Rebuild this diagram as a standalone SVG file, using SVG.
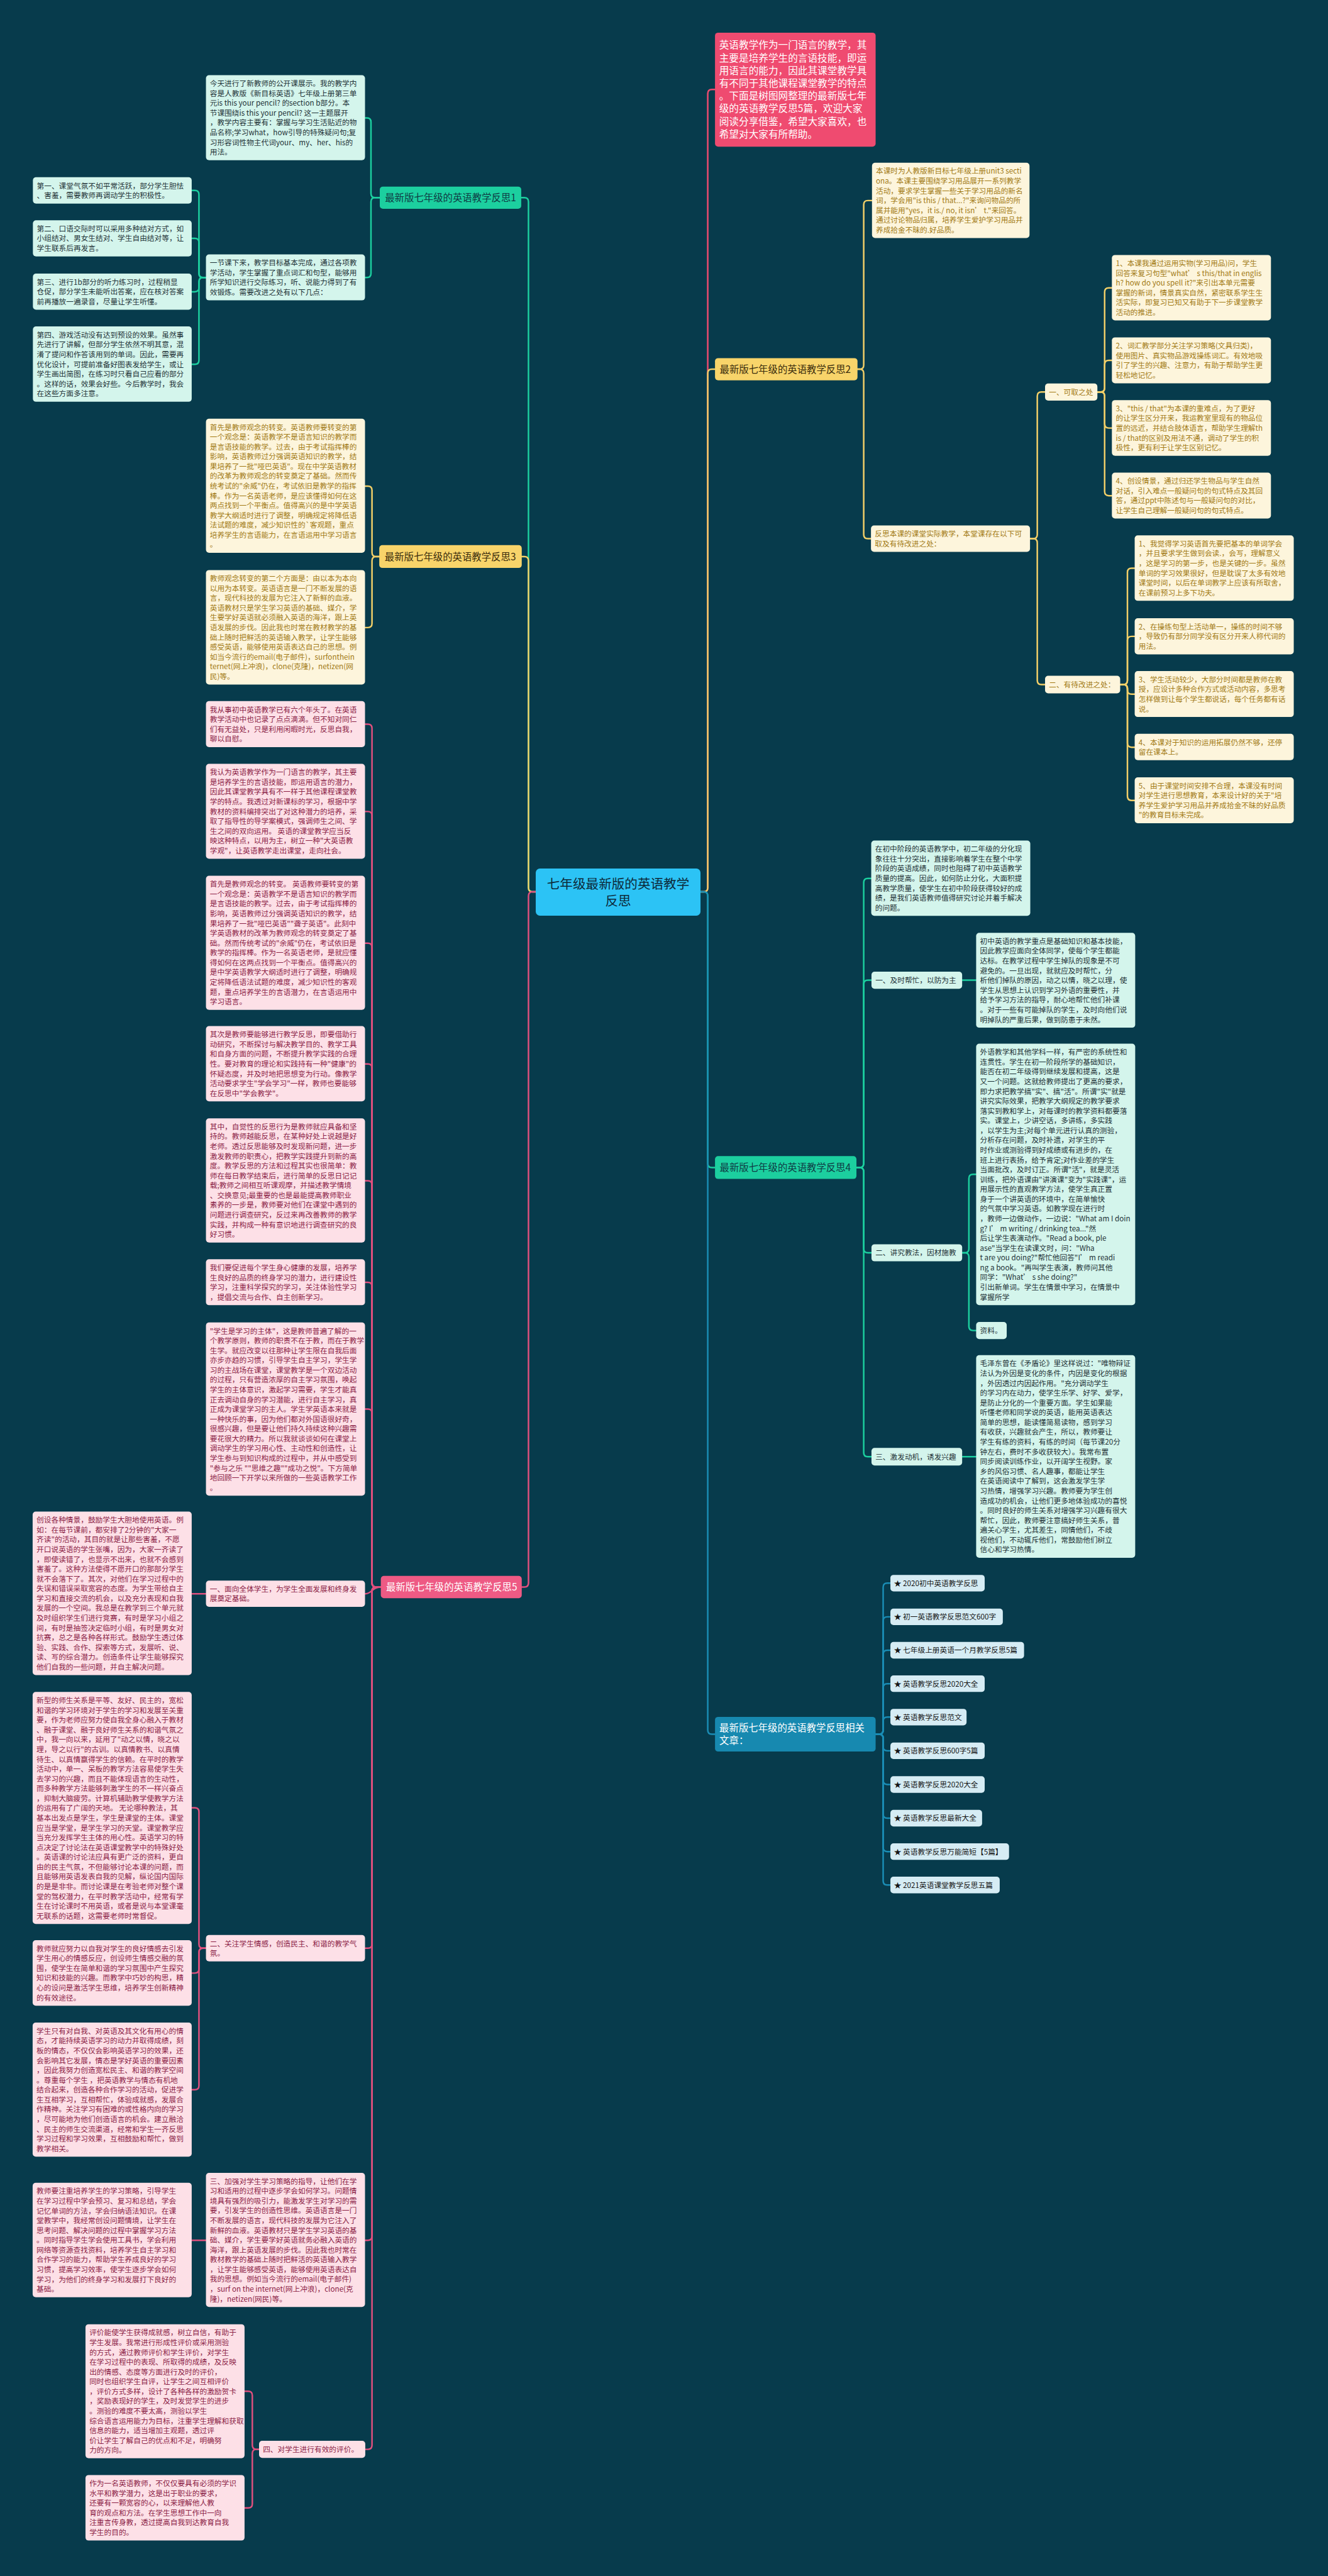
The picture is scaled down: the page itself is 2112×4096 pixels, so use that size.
<svg xmlns="http://www.w3.org/2000/svg" width="2112" height="4096" viewBox="0 0 2112 4096">
<style>
.t{font-family:"Noto Sans CJK SC","Noto Sans",sans-serif;font-size:14.2px}
.lb{font-size:18.7px}
.ct{font-size:25px}
.it{font-size:19px}
.c{fill:none;stroke-width:3;stroke-linecap:round;stroke-linejoin:round}
.cg{stroke:#1ccf9f}.cy{stroke:#f2cf68}.cp{stroke:#e0507e}.cb{stroke:#1a8db5}.cr{stroke:#ef4b70}
.fg{fill:#d4f5ec}.tg{fill:#1e3237}
.fy{fill:#fdf5dc}.ty{fill:#a27a14}
.fp{fill:#fde0e7}.tp{fill:#8c2246}
.fb{fill:#d6ecf4}.tb{fill:#151515}
.lg{fill:#1ccf9f}.ly{fill:#f8d46a}.lp{fill:#ee5a84}.lbl{fill:#1789b0}
.dk{fill:#0f3b44}.dy{fill:#3a2c0c}.wh{fill:#ffffff}
</style>
<rect x="0" y="0" width="2112" height="4096" fill="#073b4c"/>
<g transform="scale(0.824)">
<g id="connectors">
<path class="c cr" d="M1352 1721 L1358 1721 Q1366 1721 1366 1713 L1366 180.7 Q1366 172.7 1374 172.7 L1380 172.7"/>
<path class="c cg" d="M1034 1721 L1028 1721 Q1020 1721 1020 1713 L1020 389.5 Q1020 381.5 1012 381.5 L1006 381.5"/>
<path class="c cg" d="M1352 1721 L1358 1721 Q1366 1721 1366 1729 L1366 2245 Q1366 2253 1374 2253 L1380 2253"/>
<path class="c cy" d="M1034 1721 L1028 1721 Q1020 1721 1020 1713 L1020 1082 Q1020 1074 1012 1074 L1007 1074"/>
<path class="c cy" d="M1352 1721 L1358 1721 Q1366 1721 1366 1713 L1366 720.5 Q1366 712.5 1374 712.5 L1380 712.5"/>
<path class="c cp" d="M1034 1721 L1028 1721 Q1020 1721 1020 1729 L1020 3054.5 Q1020 3062.5 1012 3062.5 L1007 3062.5"/>
<path class="c cb" d="M1352 1721 L1358 1721 Q1366 1721 1366 1729 L1366 3338.5 Q1366 3346.5 1374 3346.5 L1380 3346.5"/>
<path class="c cg" d="M733 381.5 L724 381.5 Q716 381.5 716 373.5 L716 235.5 Q716 227.5 708 227.5 L705 227.5"/>
<path class="c cg" d="M733 381.5 L724 381.5 Q716 381.5 716 389.5 L716 527.5 Q716 535.5 708 535.5 L705 535.5"/>
<path class="c cg" d="M398 535.5 L392 535.5 Q384 535.5 384 527.5 L384 375.5 Q384 367.5 376 367.5 L370 367.5"/>
<path class="c cg" d="M398 535.5 L392 535.5 Q384 535.5 384 527.5 L384 468 Q384 460 376 460 L370 460"/>
<path class="c cg" d="M398 535.5 L392 535.5 Q384 535.5 384 543.5 L384 555 Q384 563 376 563 L370 563"/>
<path class="c cg" d="M398 535.5 L392 535.5 Q384 535.5 384 543.5 L384 695 Q384 703 376 703 L370 703"/>
<path class="c cy" d="M732 1074 L726 1074 Q718 1074 718 1066 L718 946 Q718 938 710 938 L705 938"/>
<path class="c cy" d="M732 1074 L726 1074 Q718 1074 718 1082 L718 1203 Q718 1211 710 1211 L705 1211"/>
<path class="c cp" d="M735 3062.5 L726 3062.5 Q718 3062.5 718 3054.5 L718 1405.5 Q718 1397.5 710 1397.5 L705 1397.5"/>
<path class="c cp" d="M735 3062.5 L726 3062.5 Q718 3062.5 718 3054.5 L718 1574 Q718 1566 710 1566 L705 1566"/>
<path class="c cp" d="M735 3062.5 L726 3062.5 Q718 3062.5 718 3054.5 L718 1828 Q718 1820 710 1820 L705 1820"/>
<path class="c cp" d="M735 3062.5 L726 3062.5 Q718 3062.5 718 3054.5 L718 2061 Q718 2053 710 2053 L705 2053"/>
<path class="c cp" d="M735 3062.5 L726 3062.5 Q718 3062.5 718 3054.5 L718 2286.5 Q718 2278.5 710 2278.5 L705 2278.5"/>
<path class="c cp" d="M735 3062.5 L726 3062.5 Q718 3062.5 718 3054.5 L718 2482.5 Q718 2474.5 710 2474.5 L705 2474.5"/>
<path class="c cp" d="M735 3062.5 L726 3062.5 Q718 3062.5 718 3054.5 L718 2727 Q718 2719 710 2719 L705 2719"/>
<path class="c cp" d="M735 3062.5 C718 3062.5 718 3075.5 705 3075.5"/>
<path class="c cp" d="M735 3062.5 L726 3062.5 Q718 3062.5 718 3070.5 L718 3751.5 Q718 3759.5 710 3759.5 L705 3759.5"/>
<path class="c cp" d="M735 3062.5 L726 3062.5 Q718 3062.5 718 3070.5 L718 4315 Q718 4323 710 4323 L705 4323"/>
<path class="c cp" d="M735 3062.5 L726 3062.5 Q718 3062.5 718 3070.5 L718 4718.5 Q718 4726.5 710 4726.5 L705 4726.5"/>
<path class="c cp" d="M397 3075.5 L370 3075.5"/>
<path class="c cp" d="M397 3759.5 L392 3759.5 Q384 3759.5 384 3751.5 L384 3496.5 Q384 3488.5 376 3488.5 L370 3488.5"/>
<path class="c cp" d="M397 3759.5 L392 3759.5 Q384 3759.5 384 3767.5 L384 3799.5 Q384 3807.5 376 3807.5 L370 3807.5"/>
<path class="c cp" d="M397 3759.5 L392 3759.5 Q384 3759.5 384 3767.5 L384 4024.5 Q384 4032.5 376 4032.5 L370 4032.5"/>
<path class="c cp" d="M397 4323 L370 4323"/>
<path class="c cp" d="M500 4726.5 L495 4726.5 Q487 4726.5 487 4718.5 L487 4622.5 Q487 4614.5 479 4614.5 L472 4614.5"/>
<path class="c cp" d="M500 4726.5 L495 4726.5 Q487 4726.5 487 4734.5 L487 4831.5 Q487 4839.5 479 4839.5 L472 4839.5"/>
<path class="c cy" d="M1655 712.5 L1659 712.5 Q1667 712.5 1667 704.5 L1667 395 Q1667 387 1675 387 L1683 387"/>
<path class="c cy" d="M1655 712.5 L1659 712.5 Q1667 712.5 1667 720.5 L1667 1031.5 Q1667 1039.5 1675 1039.5 L1681 1039.5"/>
<path class="c cy" d="M1988 1039.5 L1994 1039.5 Q2002 1039.5 2002 1031.5 L2002 764.5 Q2002 756.5 2010 756.5 L2017 756.5"/>
<path class="c cy" d="M1988 1039.5 L1994 1039.5 Q2002 1039.5 2002 1047.5 L2002 1313 Q2002 1321 2010 1321 L2017 1321"/>
<path class="c cy" d="M2118 756.5 L2124 756.5 Q2132 756.5 2132 748.5 L2132 563.5 Q2132 555.5 2140 555.5 L2146 555.5"/>
<path class="c cy" d="M2118 756.5 L2124 756.5 Q2132 756.5 2132 748.5 L2132 703.5 Q2132 695.5 2140 695.5 L2146 695.5"/>
<path class="c cy" d="M2118 756.5 L2124 756.5 Q2132 756.5 2132 764.5 L2132 818 Q2132 826 2140 826 L2146 826"/>
<path class="c cy" d="M2118 756.5 L2124 756.5 Q2132 756.5 2132 764.5 L2132 948.5 Q2132 956.5 2140 956.5 L2146 956.5"/>
<path class="c cy" d="M2162 1321 L2168 1321 Q2176 1321 2176 1313 L2176 1104.5 Q2176 1096.5 2184 1096.5 L2190 1096.5"/>
<path class="c cy" d="M2162 1321 L2168 1321 Q2176 1321 2176 1313 L2176 1236 Q2176 1228 2184 1228 L2190 1228"/>
<path class="c cy" d="M2162 1321 L2168 1321 Q2176 1321 2176 1329 L2176 1331.5 Q2176 1339.5 2184 1339.5 L2190 1339.5"/>
<path class="c cy" d="M2162 1321 L2168 1321 Q2176 1321 2176 1329 L2176 1434 Q2176 1442 2184 1442 L2190 1442"/>
<path class="c cy" d="M2162 1321 L2168 1321 Q2176 1321 2176 1329 L2176 1536.5 Q2176 1544.5 2184 1544.5 L2190 1544.5"/>
<path class="c cg" d="M1653 2253 L1659 2253 Q1667 2253 1667 2245 L1667 1703 Q1667 1695 1675 1695 L1681.5 1695"/>
<path class="c cg" d="M1653 2253 L1659 2253 Q1667 2253 1667 2245 L1667 1899.5 Q1667 1891.5 1675 1891.5 L1682 1891.5"/>
<path class="c cg" d="M1653 2253 L1659 2253 Q1667 2253 1667 2261 L1667 2409.5 Q1667 2417.5 1675 2417.5 L1682 2417.5"/>
<path class="c cg" d="M1653 2253 L1659 2253 Q1667 2253 1667 2261 L1667 2803 Q1667 2811 1675 2811 L1682 2811"/>
<path class="c cg" d="M1857 1891.5 L1884 1891.5"/>
<path class="c cg" d="M1857 2417.5 L1862 2417.5 Q1870 2417.5 1870 2409.5 L1870 2274.2 Q1870 2266.2 1878 2266.2 L1884 2266.2"/>
<path class="c cg" d="M1857 2417.5 L1862 2417.5 Q1870 2417.5 1870 2425.5 L1870 2559.5 Q1870 2567.5 1878 2567.5 L1884 2567.5"/>
<path class="c cg" d="M1857 2811 L1884 2811"/>
<path class="c cb" d="M1690 3346.5 L1696.5 3346.5 Q1704.5 3346.5 1704.5 3338.5 L1704.5 3063 Q1704.5 3055 1712.5 3055 L1718.5 3055"/>
<path class="c cb" d="M1690 3346.5 L1696.5 3346.5 Q1704.5 3346.5 1704.5 3338.5 L1704.5 3128 Q1704.5 3120 1712.5 3120 L1718.5 3120"/>
<path class="c cb" d="M1690 3346.5 L1696.5 3346.5 Q1704.5 3346.5 1704.5 3338.5 L1704.5 3192.5 Q1704.5 3184.5 1712.5 3184.5 L1718.5 3184.5"/>
<path class="c cb" d="M1690 3346.5 L1696.5 3346.5 Q1704.5 3346.5 1704.5 3338.5 L1704.5 3257 Q1704.5 3249 1712.5 3249 L1718.5 3249"/>
<path class="c cb" d="M1690 3346.5 L1696.5 3346.5 Q1704.5 3346.5 1704.5 3338.5 L1704.5 3321.5 Q1704.5 3313.5 1712.5 3313.5 L1718.5 3313.5"/>
<path class="c cb" d="M1690 3346.5 L1696.5 3346.5 Q1704.5 3346.5 1704.5 3354.5 L1704.5 3370.5 Q1704.5 3378.5 1712.5 3378.5 L1718.5 3378.5"/>
<path class="c cb" d="M1690 3346.5 L1696.5 3346.5 Q1704.5 3346.5 1704.5 3354.5 L1704.5 3435.5 Q1704.5 3443.5 1712.5 3443.5 L1718.5 3443.5"/>
<path class="c cb" d="M1690 3346.5 L1696.5 3346.5 Q1704.5 3346.5 1704.5 3354.5 L1704.5 3500.5 Q1704.5 3508.5 1712.5 3508.5 L1718.5 3508.5"/>
<path class="c cb" d="M1690 3346.5 L1696.5 3346.5 Q1704.5 3346.5 1704.5 3354.5 L1704.5 3565 Q1704.5 3573 1712.5 3573 L1718.5 3573"/>
<path class="c cb" d="M1690 3346.5 L1696.5 3346.5 Q1704.5 3346.5 1704.5 3354.5 L1704.5 3629.5 Q1704.5 3637.5 1712.5 3637.5 L1718.5 3637.5"/>
</g>

<g id="center"><rect x="1034" y="1676" width="318" height="91" rx="8" fill="#2cc3f5"/><text class="t ct" fill="#0d2a3a" text-anchor="middle"><tspan x="1193" y="1715">七年级最新版的英语教学</tspan><tspan x="1193" y="1748">反思</tspan></text></g>

<g id="intro"><rect x="1380" y="63" width="310" height="220" rx="6" fill="#ef4b70"/><text class="t it wh" x="1388" y="94"><tspan x="1388">英语教学作为一门语言的教学，其</tspan><tspan x="1388" dy="24.5">主要是培养学生的言语技能，即运</tspan><tspan x="1388" dy="24.5">用语言的能力，因此其课堂教学具</tspan><tspan x="1388" dy="24.5">有不同于其他课程课堂教学的特点</tspan><tspan x="1388" dy="24.5">。下面是树图网整理的最新版七年</tspan><tspan x="1388" dy="24.5">级的英语教学反思5篇，欢迎大家</tspan><tspan x="1388" dy="24.5">阅读分享借鉴，希望大家喜欢，也</tspan><tspan x="1388" dy="24.5">希望对大家有所帮助。</tspan></text></g>

<g id="b1"><rect x="733" y="360" width="273" height="43" rx="6" class="lg"/><text class="t lb dk" x="743" y="388.5">最新版七年级的英语教学反思1</text></g>
<g id="b1-intro"><rect x="397.5" y="145" width="307" height="164.2" rx="6" class="fg"/><text class="t tg" x="405" y="166.5"><tspan x="405">今天进行了新教师的公开课展示。我的教学内</tspan><tspan x="405" dy="18.9">容是人教版《新目标英语》七年级上册第三单</tspan><tspan x="405" dy="18.9">元is this your pencil? 的section b部分。本</tspan><tspan x="405" dy="18.9">节课围绕is this your pencil? 这一主题展开</tspan><tspan x="405" dy="18.9">，教学内容主要有：掌握与学习生活贴近的物</tspan><tspan x="405" dy="18.9">品名称;学习what，how引导的特殊疑问句;复</tspan><tspan x="405" dy="18.9">习形容词性物主代词your、my、her、his的</tspan><tspan x="405" dy="18.9">用法。</tspan></text></g>
<g id="b1-sum"><rect x="397.5" y="491" width="307" height="88.6" rx="6" class="fg"/><text class="t tg" x="405" y="512.5"><tspan x="405">一节课下来，教学目标基本完成，通过各项教</tspan><tspan x="405" dy="18.9">学活动，学生掌握了重点词汇和句型，能够用</tspan><tspan x="405" dy="18.9">所学知识进行交际练习，听、说能力得到了有</tspan><tspan x="405" dy="18.9">效锻炼。需要改进之处有以下几点：</tspan></text></g>
<g id="b1-1"><rect x="63.5" y="342" width="306.5" height="50.8" rx="6" class="fg"/><text class="t tg" x="71" y="363.5"><tspan x="71">第一、课堂气氛不如平常活跃，部分学生胆怯</tspan><tspan x="71" dy="18.9">、害羞，需要教师再调动学生的积极性。</tspan></text></g>
<g id="b1-2"><rect x="63.5" y="425" width="306.5" height="69.7" rx="6" class="fg"/><text class="t tg" x="71" y="446.5"><tspan x="71">第二、口语交际时可以采用多种结对方式，如</tspan><tspan x="71" dy="18.9">小组结对、男女生结对、学生自由结对等，让</tspan><tspan x="71" dy="18.9">学生联系后再发言。</tspan></text></g>
<g id="b1-3"><rect x="63.5" y="528" width="306.5" height="69.7" rx="6" class="fg"/><text class="t tg" x="71" y="549.5"><tspan x="71">第三、进行1b部分的听力练习时，过程稍显</tspan><tspan x="71" dy="18.9">仓促，部分学生未能听出答案，应在核对答案</tspan><tspan x="71" dy="18.9">前再播放一遍录音，尽量让学生听懂。</tspan></text></g>
<g id="b1-4"><rect x="63.5" y="630" width="306.5" height="145.3" rx="6" class="fg"/><text class="t tg" x="71" y="651.5"><tspan x="71">第四、游戏活动没有达到预设的效果。虽然事</tspan><tspan x="71" dy="18.9">先进行了讲解，但部分学生依然不明其意，混</tspan><tspan x="71" dy="18.9">淆了提问和作答该用到的单词。因此，需要再</tspan><tspan x="71" dy="18.9">优化设计，可提前准备好图表发给学生，或让</tspan><tspan x="71" dy="18.9">学生画出简图，在练习时只看自己应看的部分</tspan><tspan x="71" dy="18.9">。这样的话，效果会好些。今后教学时，我会</tspan><tspan x="71" dy="18.9">在这些方面多注意。</tspan></text></g>

<g id="b3"><rect x="732" y="1052" width="275" height="44" rx="6" class="ly"/><text class="t lb dy" x="742.5" y="1081">最新版七年级的英语教学反思3</text></g>
<g id="b3-1"><rect x="397.5" y="808" width="307" height="258.7" rx="6" class="fy"/><text class="t ty" x="405" y="829.5"><tspan x="405">首先是教师观念的转变。英语教师要转变的第</tspan><tspan x="405" dy="18.9">一个观念是：英语教学不是语言知识的教学而</tspan><tspan x="405" dy="18.9">是言语技能的教学。过去，由于考试指挥棒的</tspan><tspan x="405" dy="18.9">影响，英语教师过分强调英语知识的教学，结</tspan><tspan x="405" dy="18.9">果培养了一批"哑巴英语"。现在中学英语教材</tspan><tspan x="405" dy="18.9">的改革为教师观念的转变奠定了基础。然而传</tspan><tspan x="405" dy="18.9">统考试的"余威"仍在，考试依旧是教学的指挥</tspan><tspan x="405" dy="18.9">棒。作为一名英语老师，是应该懂得如何在这</tspan><tspan x="405" dy="18.9">两点找到一个平衡点。值得高兴的是中学英语</tspan><tspan x="405" dy="18.9">教学大纲适时进行了调整，明确规定将降低语</tspan><tspan x="405" dy="18.9">法试题的难度，减少知识性的`客观题，重点</tspan><tspan x="405" dy="18.9">培养学生的言语能力，在言语运用中学习语言</tspan><tspan x="405" dy="18.9">。</tspan></text></g>
<g id="b3-2"><rect x="397.5" y="1100" width="307" height="220.9" rx="6" class="fy"/><text class="t ty" x="405" y="1121.5"><tspan x="405">教师观念转变的第二个方面是：由以本为本向</tspan><tspan x="405" dy="18.9">以用为本转变。英语语言是一门不断发展的语</tspan><tspan x="405" dy="18.9">言，现代科技的发展为它注入了新鲜的血液。</tspan><tspan x="405" dy="18.9">英语教材只是学生学习英语的基础、媒介，学</tspan><tspan x="405" dy="18.9">生要学好英语就必须融入英语的海洋，跟上英</tspan><tspan x="405" dy="18.9">语发展的步伐。因此我也时常在教材教学的基</tspan><tspan x="405" dy="18.9">础上随时把鲜活的英语输入教学，让学生能够</tspan><tspan x="405" dy="18.9">感受英语，能够使用英语表达自己的思想。例</tspan><tspan x="405" dy="18.9">如当今流行的email(电子邮件)，surfonthein</tspan><tspan x="405" dy="18.9">ternet(网上冲浪)，clone(克隆)，netizen(网</tspan><tspan x="405" dy="18.9">民)等。</tspan></text></g>

<g id="b5"><rect x="735" y="3041" width="272" height="43" rx="6" class="lp"/><text class="t lb wh" x="745" y="3069.5">最新版七年级的英语教学反思5</text></g>
<g id="b5-p1"><rect x="397.5" y="1353" width="307" height="88.6" rx="6" class="fp"/><text class="t tp" x="405" y="1374.5"><tspan x="405">我从事初中英语教学已有六个年头了。在英语</tspan><tspan x="405" dy="18.9">教学活动中也记录了点点滴滴。但不知对同仁</tspan><tspan x="405" dy="18.9">们有无益处，只是利用闲暇时光，反思自我，</tspan><tspan x="405" dy="18.9">聊以自慰。</tspan></text></g>
<g id="b5-p2"><rect x="397.5" y="1474" width="307" height="183.1" rx="6" class="fp"/><text class="t tp" x="405" y="1495.5"><tspan x="405">我认为英语教学作为一门语言的教学，其主要</tspan><tspan x="405" dy="18.9">是培养学生的言语技能，即运用语言的潜力，</tspan><tspan x="405" dy="18.9">因此其课堂教学具有不一样于其他课程课堂教</tspan><tspan x="405" dy="18.9">学的特点。我透过对新课标的学习，根据中学</tspan><tspan x="405" dy="18.9">教材的资料编排突出了对这种潜力的培养，采</tspan><tspan x="405" dy="18.9">取了指导性的导学案模式，强调师生之间、学</tspan><tspan x="405" dy="18.9">生之间的双向运用。 英语的课堂教学应当反</tspan><tspan x="405" dy="18.9">映这种特点，以用为主，树立一种"大英语教</tspan><tspan x="405" dy="18.9">学观"，让英语教学走出课堂，走向社会。</tspan></text></g>
<g id="b5-p3"><rect x="397.5" y="1690" width="307" height="258.7" rx="6" class="fp"/><text class="t tp" x="405" y="1711.5"><tspan x="405">首先是教师观念的转变。 英语教师要转变的第</tspan><tspan x="405" dy="18.9">一个观念是：英语教学不是语言知识的教学而</tspan><tspan x="405" dy="18.9">是言语技能的教学。过去，由于考试指挥棒的</tspan><tspan x="405" dy="18.9">影响，英语教师过分强调英语知识的教学，结</tspan><tspan x="405" dy="18.9">果培养了一批"哑巴英语""聋子英语"。此刻中</tspan><tspan x="405" dy="18.9">学英语教材的改革为教师观念的转变奠定了基</tspan><tspan x="405" dy="18.9">础。然而传统考试的"余威"仍在，考试依旧是</tspan><tspan x="405" dy="18.9">教学的指挥棒。作为一名英语老师，是就应懂</tspan><tspan x="405" dy="18.9">得如何在这两点找到一个平衡点。值得高兴的</tspan><tspan x="405" dy="18.9">是中学英语教学大纲适时进行了调整，明确规</tspan><tspan x="405" dy="18.9">定将降低语法试题的难度，减少知识性的客观</tspan><tspan x="405" dy="18.9">题，重点培养学生的言语潜力，在言语运用中</tspan><tspan x="405" dy="18.9">学习语言。</tspan></text></g>
<g id="b5-p4"><rect x="397.5" y="1980" width="307" height="145.3" rx="6" class="fp"/><text class="t tp" x="405" y="2001.5"><tspan x="405">其次是教师要能够进行教学反思，即要借助行</tspan><tspan x="405" dy="18.9">动研究，不断探讨与解决教学目的、教学工具</tspan><tspan x="405" dy="18.9">和自身方面的问题，不断提升教学实践的合理</tspan><tspan x="405" dy="18.9">性。要对教育的理论和实践持有一种"健康"的</tspan><tspan x="405" dy="18.9">怀疑态度，并及时地把思想变为行动。像教学</tspan><tspan x="405" dy="18.9">活动要求学生"学会学习"一样，教师也要能够</tspan><tspan x="405" dy="18.9">在反思中"学会教学"。</tspan></text></g>
<g id="b5-p5"><rect x="397.5" y="2158" width="307" height="239.8" rx="6" class="fp"/><text class="t tp" x="405" y="2179.5"><tspan x="405">其中，自觉性的反思行为是教师就应具备和坚</tspan><tspan x="405" dy="18.9">持的。教师越能反思，在某种好处上说越是好</tspan><tspan x="405" dy="18.9">老师。透过反思能够及时发现新问题，进一步</tspan><tspan x="405" dy="18.9">激发教师的职责心，把教学实践提升到新的高</tspan><tspan x="405" dy="18.9">度。教学反思的方法和过程其实也很简单：教</tspan><tspan x="405" dy="18.9">师在每日教学结束后，进行简单的反思日记记</tspan><tspan x="405" dy="18.9">载;教师之间相互听课观摩，并描述教学情境</tspan><tspan x="405" dy="18.9">、交换意见;最重要的也是最能提高教师职业</tspan><tspan x="405" dy="18.9">素养的一步是，教师要对他们在课堂中遇到的</tspan><tspan x="405" dy="18.9">问题进行调查研究，反过来再改善教师的教学</tspan><tspan x="405" dy="18.9">实践，并构成一种有意识地进行调查研究的良</tspan><tspan x="405" dy="18.9">好习惯。</tspan></text></g>
<g id="b5-p6"><rect x="397.5" y="2430" width="307" height="88.6" rx="6" class="fp"/><text class="t tp" x="405" y="2451.5"><tspan x="405">我们要促进每个学生身心健康的发展，培养学</tspan><tspan x="405" dy="18.9">生良好的品质的终身学习的潜力，进行建设性</tspan><tspan x="405" dy="18.9">学习，注重科学探究的学习，关注体验性学习</tspan><tspan x="405" dy="18.9">，提倡交流与合作、自主创新学习。</tspan></text></g>
<g id="b5-p7"><rect x="397.5" y="2552" width="307" height="334.3" rx="6" class="fp"/><text class="t tp" x="405" y="2573.5"><tspan x="405">"学生是学习的主体"，这是教师普遍了解的一</tspan><tspan x="405" dy="18.9">个教学原则，教师的职责不在于教，而在于教学</tspan><tspan x="405" dy="18.9">生学。就应改变以往那种让学生限在自我后面</tspan><tspan x="405" dy="18.9">亦步亦趋的习惯，引导学生自主学习，学生学</tspan><tspan x="405" dy="18.9">习的主战场在课堂，课堂教学是一个双边活动</tspan><tspan x="405" dy="18.9">的过程，只有营造浓厚的自主学习氛围，唤起</tspan><tspan x="405" dy="18.9">学生的主体意识，激起学习需要，学生才能真</tspan><tspan x="405" dy="18.9">正去调动自身的学习潜能，进行自主学习，真</tspan><tspan x="405" dy="18.9">正成为课堂学习的主人。学生学英语本来就是</tspan><tspan x="405" dy="18.9">一种快乐的事，因为他们都对外国语很好奇，</tspan><tspan x="405" dy="18.9">很感兴趣，但是要让他们持久持续这种兴趣需</tspan><tspan x="405" dy="18.9">要花很大的精力。所以我就谈谈如何在课堂上</tspan><tspan x="405" dy="18.9">调动学生的学习用心性、主动性和创造性，让</tspan><tspan x="405" dy="18.9">学生参与到知识构成的过程中，并从中感受到</tspan><tspan x="405" dy="18.9">"参与之乐 ""思维之趣""成功之悦"。下方简单</tspan><tspan x="405" dy="18.9">地回顾一下开学以来所做的一些英语教学工作</tspan><tspan x="405" dy="18.9">。</tspan></text></g>
<g id="b5-p8"><rect x="397.5" y="3050" width="307" height="50.8" rx="6" class="fp"/><text class="t tp" x="405" y="3071.5"><tspan x="405">一、面向全体学生，为学生全面发展和终身发</tspan><tspan x="405" dy="18.9">展奠定基础。</tspan></text></g>
<g id="b5-p8-1"><rect x="63" y="2917" width="307" height="315.4" rx="6" class="fp"/><text class="t tp" x="70.5" y="2938.5"><tspan x="70.5">创设各种情景，鼓励学生大胆地使用英语。例</tspan><tspan x="70.5" dy="18.9">如：在每节课前，都安排了2分钟的"大家一</tspan><tspan x="70.5" dy="18.9">齐读"的活动，其目的就是让那些害羞，不愿</tspan><tspan x="70.5" dy="18.9">开口说英语的学生张嘴，因为，大家一齐读了</tspan><tspan x="70.5" dy="18.9">，即使读错了，也显示不出来，也就不会感到</tspan><tspan x="70.5" dy="18.9">害羞了。这种方法使得不愿开口的那部分学生</tspan><tspan x="70.5" dy="18.9">就不会落下了。其次，对他们在学习过程中的</tspan><tspan x="70.5" dy="18.9">失误和错误采取宽容的态度。为学生带给自主</tspan><tspan x="70.5" dy="18.9">学习和直接交流的机会，以及充分表现和自我</tspan><tspan x="70.5" dy="18.9">发展的一个空间。我总是在教学到三个单元就</tspan><tspan x="70.5" dy="18.9">及时组织学生们进行竞赛，有时是学习小组之</tspan><tspan x="70.5" dy="18.9">间，有时是抽签决定临时小组，有时是男女对</tspan><tspan x="70.5" dy="18.9">抗赛，总之是各种各样形式。鼓励学生透过体</tspan><tspan x="70.5" dy="18.9">验、实践、合作、探索等方式，发展听、说、</tspan><tspan x="70.5" dy="18.9">读、写的综合潜力。创造条件让学生能够探究</tspan><tspan x="70.5" dy="18.9">他们自我的一些问题，并自主解决问题。</tspan></text></g>
<g id="b5-p9"><rect x="397.5" y="3734" width="307" height="50.8" rx="6" class="fp"/><text class="t tp" x="405" y="3755.5"><tspan x="405">二、关注学生情感，创造民主、和谐的教学气</tspan><tspan x="405" dy="18.9">氛。</tspan></text></g>
<g id="b5-p9-1"><rect x="63" y="3265" width="307" height="447.7" rx="6" class="fp"/><text class="t tp" x="70.5" y="3286.5"><tspan x="70.5">新型的师生关系是平等、友好、民主的，宽松</tspan><tspan x="70.5" dy="18.9">和谐的学习环境对于学生的学习和发展至关重</tspan><tspan x="70.5" dy="18.9">要，作为老师应努力使自我全身心融入于教材</tspan><tspan x="70.5" dy="18.9">、融于课堂、融于良好师生关系的和谐气氛之</tspan><tspan x="70.5" dy="18.9">中，我一向以来，延用了"动之以情，晓之以</tspan><tspan x="70.5" dy="18.9">理，导之以行"的古训。以真情教书、以真情</tspan><tspan x="70.5" dy="18.9">待生、以真情赢得学生的信赖。在平时的教学</tspan><tspan x="70.5" dy="18.9">活动中，单一、呆板的教学方法容易使学生失</tspan><tspan x="70.5" dy="18.9">去学习的兴趣，而且不能体现语言的生动性，</tspan><tspan x="70.5" dy="18.9">而多种教学方法能够刺激学生的不一样兴奋点</tspan><tspan x="70.5" dy="18.9">，抑制大脑疲劳。计算机辅助教学使教学方法</tspan><tspan x="70.5" dy="18.9">的运用有了广阔的天地。 无论哪种教法，其</tspan><tspan x="70.5" dy="18.9">基本出发点是学生，学生是课堂的主体。课堂</tspan><tspan x="70.5" dy="18.9">应当是学堂，是学生学习的天堂。课堂教学应</tspan><tspan x="70.5" dy="18.9">当充分发挥学生主体的用心性。英语学习的特</tspan><tspan x="70.5" dy="18.9">点决定了讨论法在英语课堂教学中的特殊好处</tspan><tspan x="70.5" dy="18.9">。英语课的讨论法应具有更广泛的资料，更自</tspan><tspan x="70.5" dy="18.9">由的民主气氛，不但能够讨论本课的问题，而</tspan><tspan x="70.5" dy="18.9">且能够用英语发表自我的见解，纵论国内国际</tspan><tspan x="70.5" dy="18.9">的是是非非。而讨论课是在考验老师对整个课</tspan><tspan x="70.5" dy="18.9">堂的驾权潜力，在平时教学活动中，经常有学</tspan><tspan x="70.5" dy="18.9">生在讨论课时不用英语，或者是说与本堂课毫</tspan><tspan x="70.5" dy="18.9">无联系的话题，这需要老师时常督促。</tspan></text></g>
<g id="b5-p9-2"><rect x="63" y="3744" width="307" height="126.4" rx="6" class="fp"/><text class="t tp" x="70.5" y="3765.5"><tspan x="70.5">教师就应努力以自我对学生的良好情感去引发</tspan><tspan x="70.5" dy="18.9">学生用心的情感反应，创设师生情感交融的氛</tspan><tspan x="70.5" dy="18.9">围，使学生在简单和谐的学习氛围中产生探究</tspan><tspan x="70.5" dy="18.9">知识和技能的兴趣。而教学中巧妙的构思，精</tspan><tspan x="70.5" dy="18.9">心的设问是激活学生思维，培养学生创新精神</tspan><tspan x="70.5" dy="18.9">的有效途径。</tspan></text></g>
<g id="b5-p9-3"><rect x="63" y="3903" width="307" height="258.7" rx="6" class="fp"/><text class="t tp" x="70.5" y="3924.5"><tspan x="70.5">学生只有对自我、对英语及其文化有用心的情</tspan><tspan x="70.5" dy="18.9">态，才能持续英语学习的动力并取得成绩，刻</tspan><tspan x="70.5" dy="18.9">板的情态，不仅仅会影响英语学习的效果，还</tspan><tspan x="70.5" dy="18.9">会影响其它发展，情态是学好英语的重要因素</tspan><tspan x="70.5" dy="18.9">，因此我努力创造宽松民主、和谐的教学空间</tspan><tspan x="70.5" dy="18.9">。尊重每个学生 ，把英语教学与情态有机地</tspan><tspan x="70.5" dy="18.9">结合起来，创造各种合作学习的活动，促进学</tspan><tspan x="70.5" dy="18.9">生互相学习，互相帮忙，体验成就感，发展合</tspan><tspan x="70.5" dy="18.9">作精神。关注学习有困难的或性格内向的学习</tspan><tspan x="70.5" dy="18.9">，尽可能地为他们创造语言的机会。建立融洽</tspan><tspan x="70.5" dy="18.9">、民主的师生交流渠道，经常和学生一齐反思</tspan><tspan x="70.5" dy="18.9">学习过程和学习效果，互相鼓励和帮忙，做到</tspan><tspan x="70.5" dy="18.9">教学相关。</tspan></text></g>
<g id="b5-p10"><rect x="397.5" y="4193" width="307" height="258.7" rx="6" class="fp"/><text class="t tp" x="405" y="4214.5"><tspan x="405">三、加强对学生学习策略的指导，让他们在学</tspan><tspan x="405" dy="18.9">习和适用的过程中逐步学会如何学习。问题情</tspan><tspan x="405" dy="18.9">境具有强烈的吸引力，能激发学生对学习的需</tspan><tspan x="405" dy="18.9">要，引发学生的创造性思维。英语语言是一门</tspan><tspan x="405" dy="18.9">不断发展的语言，现代科技的发展为它注入了</tspan><tspan x="405" dy="18.9">新鲜的血液。英语教材只是学生学习英语的基</tspan><tspan x="405" dy="18.9">础、媒介，学生要学好英语就务必融入英语的</tspan><tspan x="405" dy="18.9">海洋，跟上英语发展的步伐。因此我也时常在</tspan><tspan x="405" dy="18.9">教材教学的基础上随时把鲜活的英语输入教学</tspan><tspan x="405" dy="18.9">，让学生能够感受英语，能够使用英语表达自</tspan><tspan x="405" dy="18.9">我的思想。例如当今流行的email(电子邮件)</tspan><tspan x="405" dy="18.9">，surf on the internet(网上冲浪)，clone(克</tspan><tspan x="405" dy="18.9">隆)，netizen(网民)等。</tspan></text></g>
<g id="b5-p10-1"><rect x="63" y="4212" width="307" height="220.9" rx="6" class="fp"/><text class="t tp" x="70.5" y="4233.5"><tspan x="70.5">教师要注重培养学生的学习策略，引导学生</tspan><tspan x="70.5" dy="18.9">在学习过程中学会预习、复习和总结，学会</tspan><tspan x="70.5" dy="18.9">记忆单词的方法，学会归纳语法知识。在课</tspan><tspan x="70.5" dy="18.9">堂教学中，我经常创设问题情境，让学生在</tspan><tspan x="70.5" dy="18.9">思考问题、解决问题的过程中掌握学习方法</tspan><tspan x="70.5" dy="18.9">。同时指导学生学会使用工具书，学会利用</tspan><tspan x="70.5" dy="18.9">网络等资源查找资料，培养学生自主学习和</tspan><tspan x="70.5" dy="18.9">合作学习的能力，帮助学生养成良好的学习</tspan><tspan x="70.5" dy="18.9">习惯，提高学习效率，使学生逐步学会如何</tspan><tspan x="70.5" dy="18.9">学习，为他们的终身学习和发展打下良好的</tspan><tspan x="70.5" dy="18.9">基础。</tspan></text></g>
<g id="b5-p11"><rect x="500" y="4710" width="205" height="33" rx="6" class="fp"/><text class="t tp" x="507.5" y="4731.8">四、对学生进行有效的评价。</text></g>
<g id="b5-p11-1"><rect x="165" y="4485" width="307" height="258.7" rx="6" class="fp"/><text class="t tp" x="172.5" y="4506.5"><tspan x="172.5">评价能使学生获得成就感，树立自信，有助于</tspan><tspan x="172.5" dy="18.9">学生发展。我常进行形成性评价或采用测验</tspan><tspan x="172.5" dy="18.9">的方式，通过教师评价和学生评价，对学生</tspan><tspan x="172.5" dy="18.9">在学习过程中的表现、所取得的成绩，及反映</tspan><tspan x="172.5" dy="18.9">出的情感、态度等方面进行及时的评价，</tspan><tspan x="172.5" dy="18.9">同时也组织学生自评，让学生之间互相评价</tspan><tspan x="172.5" dy="18.9">，评价方式多样，设计了各种各样的激励贺卡</tspan><tspan x="172.5" dy="18.9">，奖励表现好的学生，及时发觉学生的进步</tspan><tspan x="172.5" dy="18.9">。测验的难度不要太高，测验以学生</tspan><tspan x="172.5" dy="18.9">综合语言运用能力为目标，注重学生理解和获取</tspan><tspan x="172.5" dy="18.9">信息的能力，适当增加主观题，透过评</tspan><tspan x="172.5" dy="18.9">价让学生了解自己的优点和不足，明确努</tspan><tspan x="172.5" dy="18.9">力的方向。</tspan></text></g>
<g id="b5-p11-2"><rect x="165" y="4776" width="307" height="126.4" rx="6" class="fp"/><text class="t tp" x="172.5" y="4797.5"><tspan x="172.5">作为一名英语教师，不仅仅要具有必须的学识</tspan><tspan x="172.5" dy="18.9">水平和教学潜力，这是出于职业的要求，</tspan><tspan x="172.5" dy="18.9">还要有一颗宽容的心，以来理解他人教</tspan><tspan x="172.5" dy="18.9">育的观点和方法。在学生思想工作中一向</tspan><tspan x="172.5" dy="18.9">注重言传身教，透过提高自我到达教育自我</tspan><tspan x="172.5" dy="18.9">学生的目的。</tspan></text></g>

<g id="b2"><rect x="1380" y="691" width="275" height="43" rx="6" class="ly"/><text class="t lb dy" x="1389" y="719.5">最新版七年级的英语教学反思2</text></g>
<g id="b2-intro"><rect x="1683" y="314" width="304" height="145.3" rx="6" class="fy"/><text class="t ty" x="1690.5" y="335.5"><tspan x="1690.5">本课时为人教版新目标七年级上册unit3 secti</tspan><tspan x="1690.5" dy="18.9">ona。本课主要围绕学习用品展开一系列教学</tspan><tspan x="1690.5" dy="18.9">活动，要求学生掌握一些关于学习用品的新名</tspan><tspan x="1690.5" dy="18.9">词，学会用"is this / that...?"来询问物品的所</tspan><tspan x="1690.5" dy="18.9">属并能用"yes，it is./ no, it isn’ t."来回答。</tspan><tspan x="1690.5" dy="18.9">通过讨论物品归属，培养学生爱护学习用品并</tspan><tspan x="1690.5" dy="18.9">养成拾金不昧的.好品质。</tspan></text></g>
<g id="b2-refl"><rect x="1681" y="1014" width="307" height="50.8" rx="6" class="fy"/><text class="t ty" x="1688.5" y="1035.5"><tspan x="1688.5">反思本课的课堂实际教学，本堂课存在以下可</tspan><tspan x="1688.5" dy="18.9">取及有待改进之处：</tspan></text></g>
<g id="b2-good"><rect x="2017" y="740" width="101" height="33" rx="6" class="fy"/><text class="t ty" x="2024.5" y="761.8">一、可取之处</text></g>
<g id="b2-bad"><rect x="2017" y="1304" width="145" height="34" rx="6" class="fy"/><text class="t ty" x="2024.5" y="1326.3">二、有待改进之处：</text></g>
<g id="b2-g1"><rect x="2146" y="492" width="307" height="126.4" rx="6" class="fy"/><text class="t ty" x="2153.5" y="513.5"><tspan x="2153.5">1、本课我通过运用实物(学习用品)问，学生</tspan><tspan x="2153.5" dy="18.9">回答来复习句型"what’ s this/that in englis</tspan><tspan x="2153.5" dy="18.9">h? how do you spell it?"来引出本单元需要</tspan><tspan x="2153.5" dy="18.9">掌握的新词，情景真实自然，紧密联系学生生</tspan><tspan x="2153.5" dy="18.9">活实际，即复习已知又有助于下一步课堂教学</tspan><tspan x="2153.5" dy="18.9">活动的推进。</tspan></text></g>
<g id="b2-g2"><rect x="2146" y="651" width="307" height="88.6" rx="6" class="fy"/><text class="t ty" x="2153.5" y="672.5"><tspan x="2153.5">2、词汇教学部分关注学习策略(文具归类)，</tspan><tspan x="2153.5" dy="18.9">使用图片、真实物品游戏操练词汇。有效地吸</tspan><tspan x="2153.5" dy="18.9">引了学生的兴趣、注意力，有助于帮助学生更</tspan><tspan x="2153.5" dy="18.9">轻松地记忆。</tspan></text></g>
<g id="b2-g3"><rect x="2146" y="772" width="307" height="107.5" rx="6" class="fy"/><text class="t ty" x="2153.5" y="793.5"><tspan x="2153.5">3、"this / that"为本课的重难点，为了更好</tspan><tspan x="2153.5" dy="18.9">的让学生区分开来，我运教室里现有的物品位</tspan><tspan x="2153.5" dy="18.9">置的远近，并结合肢体语言，帮助学生理解th</tspan><tspan x="2153.5" dy="18.9">is / that的区别及用法不通，调动了学生的积</tspan><tspan x="2153.5" dy="18.9">极性，更有利于让学生区别记忆。</tspan></text></g>
<g id="b2-g4"><rect x="2146" y="912" width="307" height="88.6" rx="6" class="fy"/><text class="t ty" x="2153.5" y="933.5"><tspan x="2153.5">4、创设情景，通过归还学生物品与学生自然</tspan><tspan x="2153.5" dy="18.9">对话，引入难点一般疑问句的句式特点及其回</tspan><tspan x="2153.5" dy="18.9">答，通过ppt中陈述句与一般疑问句的对比，</tspan><tspan x="2153.5" dy="18.9">让学生自己理解一般疑问句的句式特点。</tspan></text></g>
<g id="b2-b1"><rect x="2190" y="1033" width="307" height="126.4" rx="6" class="fy"/><text class="t ty" x="2197.5" y="1054.5"><tspan x="2197.5">1、我觉得学习英语首先要把基本的单词学会</tspan><tspan x="2197.5" dy="18.9">，并且要求学生做到会读.，会写，理解意义</tspan><tspan x="2197.5" dy="18.9">，这是学习的第一步，也是关键的一步。虽然</tspan><tspan x="2197.5" dy="18.9">单词的学习效果很好，但是耽误了太多有效地</tspan><tspan x="2197.5" dy="18.9">课堂时间，以后在单词教学上应该有所取舍，</tspan><tspan x="2197.5" dy="18.9">在课前预习上多下功夫。</tspan></text></g>
<g id="b2-b2"><rect x="2190" y="1193" width="307" height="69.7" rx="6" class="fy"/><text class="t ty" x="2197.5" y="1214.5"><tspan x="2197.5">2、在操练句型上活动单一，操练的时间不够</tspan><tspan x="2197.5" dy="18.9">，导致仍有部分同学没有区分开来人称代词的</tspan><tspan x="2197.5" dy="18.9">用法。</tspan></text></g>
<g id="b2-b3"><rect x="2190" y="1295" width="307" height="88.6" rx="6" class="fy"/><text class="t ty" x="2197.5" y="1316.5"><tspan x="2197.5">3、学生活动较少，大部分时间都是教师在教</tspan><tspan x="2197.5" dy="18.9">授，应设计多种合作方式或活动内容，多思考</tspan><tspan x="2197.5" dy="18.9">怎样做到让每个学生都说话，每个任务都有话</tspan><tspan x="2197.5" dy="18.9">说。</tspan></text></g>
<g id="b2-b4"><rect x="2190" y="1416" width="307" height="50.8" rx="6" class="fy"/><text class="t ty" x="2197.5" y="1437.5"><tspan x="2197.5">4、本课对于知识的运用拓展仍然不够，还停</tspan><tspan x="2197.5" dy="18.9">留在课本上。</tspan></text></g>
<g id="b2-b5"><rect x="2190" y="1500" width="307" height="88.6" rx="6" class="fy"/><text class="t ty" x="2197.5" y="1521.5"><tspan x="2197.5">5、由于课堂时间安排不合理，本课没有时间</tspan><tspan x="2197.5" dy="18.9">对学生进行思想教育，本来设计好的关于"培</tspan><tspan x="2197.5" dy="18.9">养学生爱护学习用品并养成拾金不昧的好品质</tspan><tspan x="2197.5" dy="18.9">"的教育目标未完成。</tspan></text></g>

<g id="b4"><rect x="1380" y="2231" width="273" height="44" rx="6" class="lg"/><text class="t lb dk" x="1389" y="2260">最新版七年级的英语教学反思4</text></g>
<g id="b4-intro"><rect x="1681.5" y="1622" width="307" height="145.3" rx="6" class="fg"/><text class="t tg" x="1689" y="1643.5"><tspan x="1689">在初中阶段的英语教学中，初二年级的分化现</tspan><tspan x="1689" dy="18.9">象往往十分突出，直接影响着学生在整个中学</tspan><tspan x="1689" dy="18.9">阶段的英语成绩，同时也阻碍了初中英语教学</tspan><tspan x="1689" dy="18.9">质量的提高。因此，如何防止分化，大面积提</tspan><tspan x="1689" dy="18.9">高教学质量，使学生在初中阶段获得较好的成</tspan><tspan x="1689" dy="18.9">绩，是我们英语教师值得研究讨论并着手解决</tspan><tspan x="1689" dy="18.9">的问题。</tspan></text></g>
<g id="b4-s1"><rect x="1682" y="1875" width="175" height="33" rx="6" class="fg"/><text class="t tg" x="1689.5" y="1896.8">一、及时帮忙，以防为主</text></g>
<g id="b4-s1-1"><rect x="1884" y="1800" width="307" height="183.1" rx="6" class="fg"/><text class="t tg" x="1891.5" y="1821.5"><tspan x="1891.5">初中英语的教学重点是基础知识和基本技能，</tspan><tspan x="1891.5" dy="18.9">因此教学应面向全体同学，使每个学生都能</tspan><tspan x="1891.5" dy="18.9">达标。在教学过程中学生掉队的现象是不可</tspan><tspan x="1891.5" dy="18.9">避免的。一旦出现，就就应及时帮忙，分</tspan><tspan x="1891.5" dy="18.9">析他们掉队的原因，动之以情，晓之以理，使</tspan><tspan x="1891.5" dy="18.9">学生从思想上认识到学习外语的重要性，并</tspan><tspan x="1891.5" dy="18.9">给予学习方法的指导，耐心地帮忙他们补课</tspan><tspan x="1891.5" dy="18.9">。对于一些有可能掉队的学生，及时向他们说</tspan><tspan x="1891.5" dy="18.9">明掉队的严重后果，做到防患于未然。</tspan></text></g>
<g id="b4-s2"><rect x="1682" y="2401" width="175" height="33" rx="6" class="fg"/><text class="t tg" x="1689.5" y="2422.8">二、讲究教法，因材施教</text></g>
<g id="b4-s2-1"><rect x="1884" y="2014" width="307" height="504.4" rx="6" class="fg"/><text class="t tg" x="1891.5" y="2035.5"><tspan x="1891.5">外语教学和其他学科一样，有严密的系统性和</tspan><tspan x="1891.5" dy="18.9">连贯性。学生在初一阶段所学的基础知识，</tspan><tspan x="1891.5" dy="18.9">能否在初二年级得到继续发展和提高，这是</tspan><tspan x="1891.5" dy="18.9">又一个问题。这就给教师提出了更高的要求，</tspan><tspan x="1891.5" dy="18.9">即力求把教学搞"实"、搞"活"。所谓"实"就是</tspan><tspan x="1891.5" dy="18.9">讲究实际效果，把教学大纲规定的教学要求</tspan><tspan x="1891.5" dy="18.9">落实到教和学上，对每课时的教学资料都要落</tspan><tspan x="1891.5" dy="18.9">实。课堂上，少讲空话，多讲练，多实践</tspan><tspan x="1891.5" dy="18.9">，以学生为主;对每个单元进行认真的测验，</tspan><tspan x="1891.5" dy="18.9">分析存在问题，及时补遗，对学生的平</tspan><tspan x="1891.5" dy="18.9">时作业或测验得到好成绩或有进步的，在</tspan><tspan x="1891.5" dy="18.9">班上进行表扬，给予肯定;对作业差的学生</tspan><tspan x="1891.5" dy="18.9">当面批改，及时订正。所谓"活"，就是灵活</tspan><tspan x="1891.5" dy="18.9">训练，把外语课由"讲演课"变为"实践课"，运</tspan><tspan x="1891.5" dy="18.9">用展示性的直观教学方法，使学生真正置</tspan><tspan x="1891.5" dy="18.9">身于一个讲英语的环境中，在简单愉快</tspan><tspan x="1891.5" dy="18.9">的气氛中学习英语。如教学现在进行时</tspan><tspan x="1891.5" dy="18.9">，教师一边做动作，一边说："What am I doin</tspan><tspan x="1891.5" dy="18.9">g? I’ m writing / drinking tea..."然</tspan><tspan x="1891.5" dy="18.9">后让学生表演动作。"Read a book, ple</tspan><tspan x="1891.5" dy="18.9">ase"当学生在读课文时，问："Wha</tspan><tspan x="1891.5" dy="18.9">t are you doing?"帮忙他回答"I’ m readi</tspan><tspan x="1891.5" dy="18.9">ng a book。"再叫学生表演，教师问其他</tspan><tspan x="1891.5" dy="18.9">同学："What’ s she doing?"</tspan><tspan x="1891.5" dy="18.9">引出新单词。学生在情景中学习，在情景中</tspan><tspan x="1891.5" dy="18.9">掌握所学</tspan></text></g>
<g id="b4-s2-2"><rect x="1884" y="2551" width="59" height="33" rx="6" class="fg"/><text class="t tg" x="1891.5" y="2572.8">资料。</text></g>
<g id="b4-s3"><rect x="1682" y="2794" width="175" height="34" rx="6" class="fg"/><text class="t tg" x="1689.5" y="2816.3">三、激发动机，诱发兴趣</text></g>
<g id="b4-s3-1"><rect x="1884" y="2615" width="307" height="391" rx="6" class="fg"/><text class="t tg" x="1891.5" y="2636.5"><tspan x="1891.5">毛泽东曾在《矛盾论》里这样说过："唯物辩证</tspan><tspan x="1891.5" dy="18.9">法认为外因是变化的条件，内因是变化的根据</tspan><tspan x="1891.5" dy="18.9">，外因透过内因起作用。"充分调动学生</tspan><tspan x="1891.5" dy="18.9">的学习内在动力，使学生乐学、好学、爱学，</tspan><tspan x="1891.5" dy="18.9">是防止分化的一个重要方面。学生如果能</tspan><tspan x="1891.5" dy="18.9">听懂老师和同学说的英语，能用英语表达</tspan><tspan x="1891.5" dy="18.9">简单的思想，能读懂简易读物，感到学习</tspan><tspan x="1891.5" dy="18.9">有收获，兴趣就会产生，所以，教师要让</tspan><tspan x="1891.5" dy="18.9">学生有练的资料，有练的时间（每节课20分</tspan><tspan x="1891.5" dy="18.9">钟左右，费时不多收获较大）。我常布置</tspan><tspan x="1891.5" dy="18.9">同步阅读训练作业，以开阔学生视野。家</tspan><tspan x="1891.5" dy="18.9">乡的风俗习惯、名人趣事，都能让学生</tspan><tspan x="1891.5" dy="18.9">在英语阅读中了解到，这会激发学生学</tspan><tspan x="1891.5" dy="18.9">习热情，增强学习兴趣。教师要为学生创</tspan><tspan x="1891.5" dy="18.9">造成功的机会，让他们更多地体验成功的喜悦</tspan><tspan x="1891.5" dy="18.9">。同时良好的师生关系对增强学习兴趣有很大</tspan><tspan x="1891.5" dy="18.9">帮忙，因此，教师要注意搞好师生关系，普</tspan><tspan x="1891.5" dy="18.9">遍关心学生，尤其差生，同情他们，不歧</tspan><tspan x="1891.5" dy="18.9">视他们，不动辄斥他们，常鼓励他们树立</tspan><tspan x="1891.5" dy="18.9">信心和学习热情。</tspan></text></g>

<g id="rel"><rect x="1380" y="3313" width="310" height="67" rx="6" class="lbl"/><text class="t lb wh" x="1388.5"><tspan x="1388.5" y="3341">最新版七年级的英语教学反思相关</tspan><tspan x="1388.5" y="3365.5">文章：</tspan></text></g>
<g id="rel-1"><rect x="1718.5" y="3039" width="182" height="32" rx="6" class="fb"/><text class="t tb" x="1725.5" y="3060.3">★ 2020初中英语教学反思</text></g>
<g id="rel-2"><rect x="1718.5" y="3104" width="217" height="32" rx="6" class="fb"/><text class="t tb" x="1725.5" y="3125.3">★ 初一英语教学反思范文600字</text></g>
<g id="rel-3"><rect x="1718.5" y="3168.5" width="258" height="32" rx="6" class="fb"/><text class="t tb" x="1725.5" y="3189.8">★ 七年级上册英语一个月教学反思5篇</text></g>
<g id="rel-4"><rect x="1718.5" y="3233" width="182" height="32" rx="6" class="fb"/><text class="t tb" x="1725.5" y="3254.3">★ 英语教学反思2020大全</text></g>
<g id="rel-5"><rect x="1718.5" y="3297.5" width="147" height="32" rx="6" class="fb"/><text class="t tb" x="1725.5" y="3318.8">★ 英语教学反思范文</text></g>
<g id="rel-6"><rect x="1718.5" y="3362.5" width="182" height="32" rx="6" class="fb"/><text class="t tb" x="1725.5" y="3383.8">★ 英语教学反思600字5篇</text></g>
<g id="rel-7"><rect x="1718.5" y="3427.5" width="182" height="32" rx="6" class="fb"/><text class="t tb" x="1725.5" y="3448.8">★ 英语教学反思2020大全</text></g>
<g id="rel-8"><rect x="1718.5" y="3492.5" width="177" height="32" rx="6" class="fb"/><text class="t tb" x="1725.5" y="3513.8">★ 英语教学反思最新大全</text></g>
<g id="rel-9"><rect x="1718.5" y="3557" width="229" height="32" rx="6" class="fb"/><text class="t tb" x="1725.5" y="3578.3">★ 英语教学反思万能简短【5篇】</text></g>
<g id="rel-10"><rect x="1718.5" y="3621.5" width="211" height="32" rx="6" class="fb"/><text class="t tb" x="1725.5" y="3642.8">★ 2021英语课堂教学反思五篇</text></g>
</g>
</svg>
